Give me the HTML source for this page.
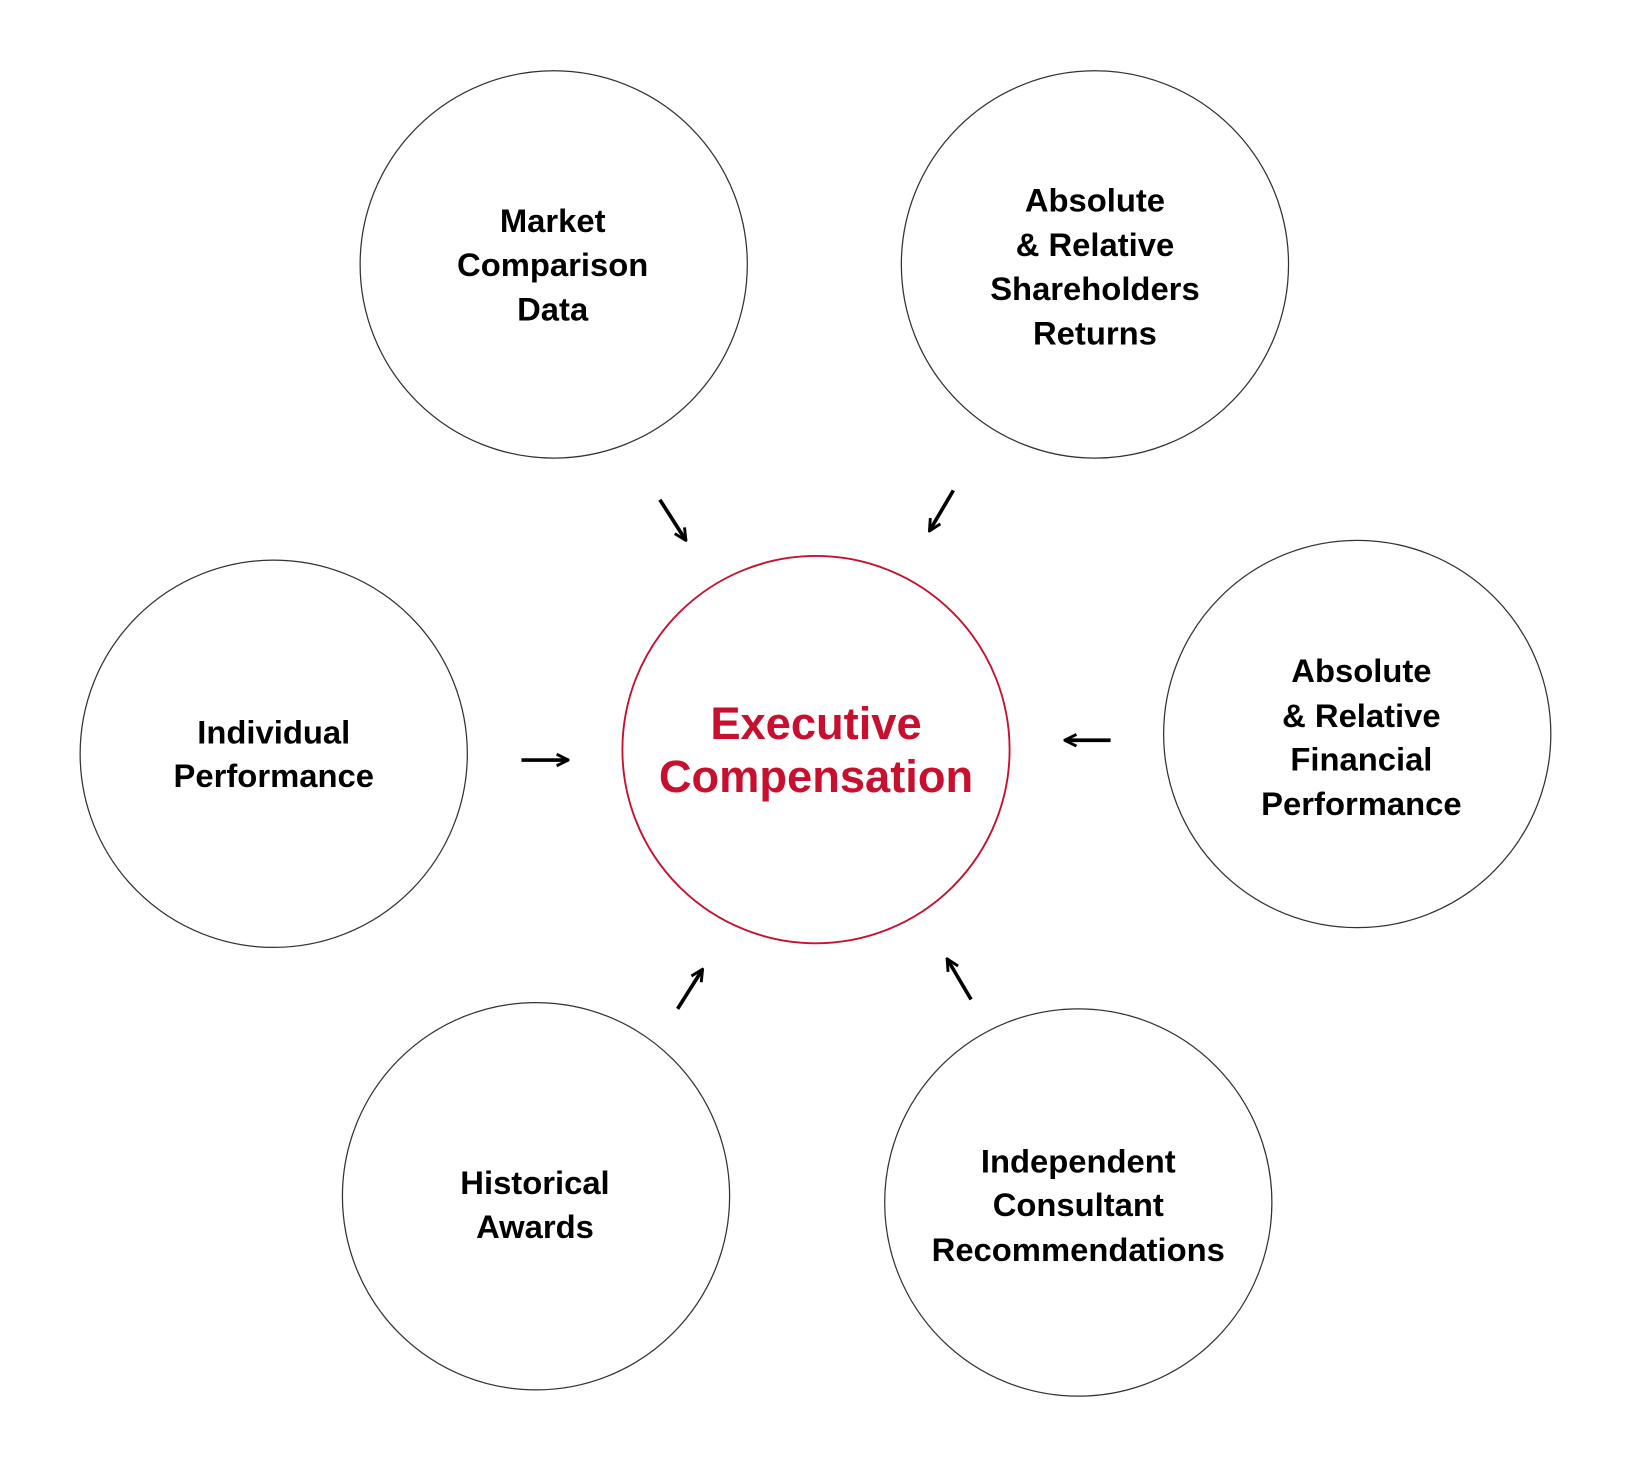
<!DOCTYPE html>
<html><head><meta charset="utf-8"><style>html,body{margin:0;padding:0;background:#fff}svg{display:block}</style></head>
<body>
<svg width="1632" height="1468" viewBox="0 0 1568 1410" preserveAspectRatio="none" xmlns="http://www.w3.org/2000/svg">
<defs><marker id="ah" viewBox="0 0 10 10" refX="9" refY="5" markerWidth="4" markerHeight="4" orient="auto" markerUnits="strokeWidth"><path d="M1,1 L9,5 L1,9" fill="none" stroke="#000" stroke-width="2"/></marker></defs>
<g fill="none" stroke="#333" stroke-width="1.2">
<circle cx="532" cy="254" r="186"/>
<circle cx="1052" cy="254" r="186"/>
<circle cx="263" cy="724" r="186"/>
<circle cx="1304" cy="705" r="186"/>
<circle cx="515" cy="1149" r="186"/>
<circle cx="1036" cy="1155" r="186"/>
</g>
<circle cx="784" cy="720" r="186" fill="none" stroke="#c8102e" stroke-width="1.8"/>
<g stroke="#000" stroke-width="3.5" marker-end="url(#ah)" fill="none">
<line x1="634" y1="480" x2="659" y2="519"/>
<line x1="916" y1="471" x2="893" y2="510"/>
<line x1="501" y1="730" x2="546" y2="730"/>
<line x1="1067" y1="711" x2="1023" y2="711"/>
<line x1="651" y1="969" x2="675" y2="931"/>
<line x1="933" y1="960" x2="910" y2="921"/>
</g>
<g font-family="Liberation Sans, sans-serif" font-weight="bold" font-size="31.5" text-anchor="middle" dominant-baseline="central" fill="#000">
<text x="531" y="212">Market</text><text x="531" y="254">Comparison</text><text x="531" y="297">Data</text>
<text x="1052" y="192">Absolute</text><text x="1052" y="235">&amp; Relative</text><text x="1052" y="277">Shareholders</text><text x="1052" y="320">Returns</text>
<text x="263" y="703">Individual</text><text x="263" y="745">Performance</text>
<text x="1308" y="644">Absolute</text><text x="1308" y="687">&amp; Relative</text><text x="1308" y="729">Financial</text><text x="1308" y="772">Performance</text>
<text x="514" y="1136">Historical</text><text x="514" y="1178">Awards</text>
<text x="1036" y="1115">Independent</text><text x="1036" y="1157">Consultant</text><text x="1036" y="1200">Recommendations</text>
</g>
<g font-family="Liberation Sans, sans-serif" font-weight="bold" font-size="43.5" text-anchor="middle" dominant-baseline="central" fill="#c8102e">
<text x="784" y="695">Executive</text><text x="784" y="746">Compensation</text>
</g>
</svg>
</body></html>
